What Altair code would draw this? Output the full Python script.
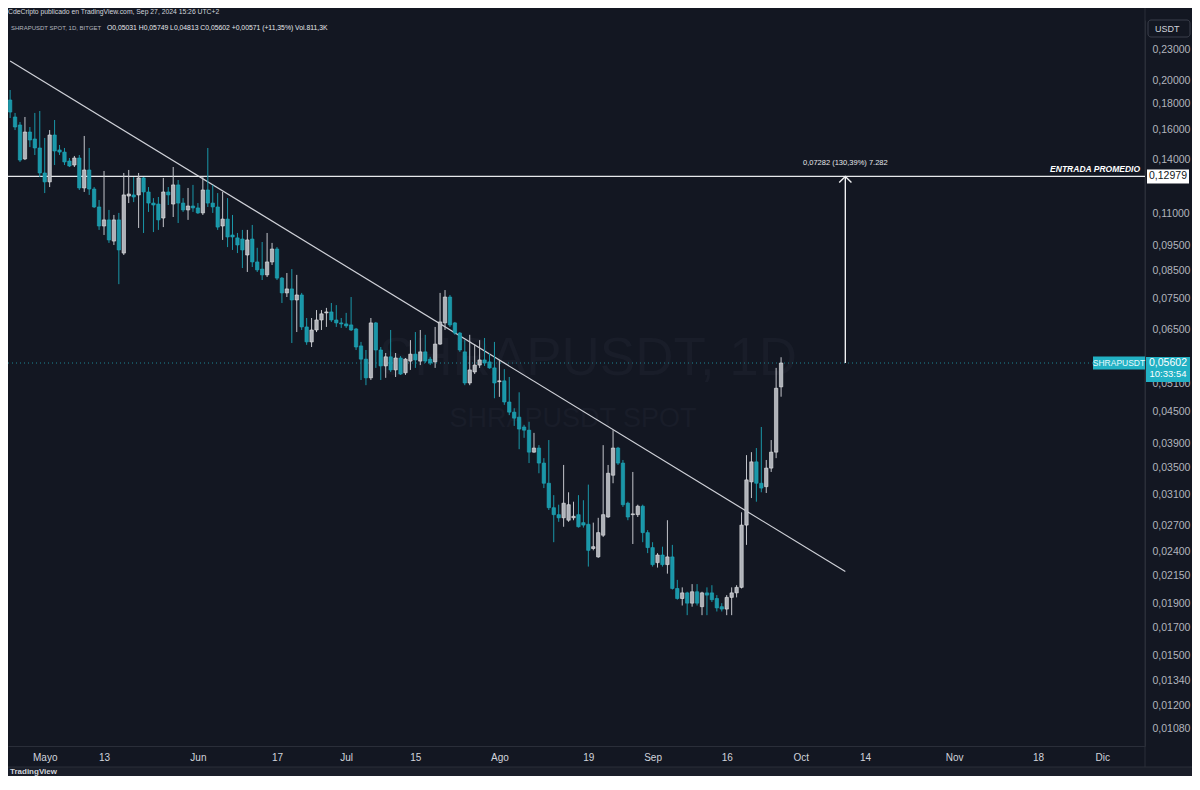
import json
import numpy as np
import pandas as pd
import altair as alt

# ---------------- data (daily candles, SHRAP/USDT, Bitget) ----------------
FIRST_DAY = "2024-04-24"

OPEN = [
    0.1831, 0.1696, 0.1636, 0.1404, 0.1585, 0.1536, 0.1475,
    0.1318, 0.1266, 0.1564, 0.1462, 0.1448, 0.1391, 0.1366, 0.1410, 0.1232, 0.1336,
    0.1226, 0.1131, 0.1038, 0.1067, 0.0970, 0.1067, 0.0919, 0.1188, 0.1194, 0.1194,
    0.1289, 0.1210, 0.1151, 0.1146, 0.1076, 0.1210, 0.1146, 0.1249, 0.1151, 0.1116, 0.1136,
    0.1126, 0.1101, 0.1221, 0.1151, 0.1131, 0.1038, 0.1071, 0.0997, 0.0984, 0.0979,
    0.0911, 0.0979, 0.0883, 0.0855, 0.0833, 0.0883, 0.0936, 0.0821, 0.0768, 0.0782,
    0.0744, 0.0761, 0.0659, 0.0616, 0.0650, 0.0680, 0.0702, 0.0705, 0.0680, 0.0671,
    0.0668, 0.0665, 0.0653, 0.0605, 0.0570, 0.0524, 0.0671, 0.0594, 0.0553, 0.0576,
    0.0543, 0.0573, 0.0536, 0.0565, 0.0583, 0.0565, 0.0589, 0.0570, 0.0563, 0.0610,
    0.0671, 0.0754, 0.0671, 0.0641, 0.0589, 0.0512, 0.0538, 0.0555, 0.0568, 0.0563, 0.0548,
    0.0515, 0.0517, 0.0470, 0.0449, 0.0439, 0.0420, 0.0414, 0.0375, 0.0382, 0.0357,
    0.0326, 0.0292, 0.0283, 0.0279, 0.0276, 0.0279, 0.0283, 0.0273, 0.0271, 0.0243,
    0.0234, 0.0258, 0.0280, 0.0338, 0.0382, 0.0357, 0.0298, 0.0283, 0.0283, 0.0294, 0.0261,
    0.0244, 0.0228, 0.0236, 0.0226, 0.0234, 0.0203, 0.0194, 0.0199, 0.0190, 0.0200,
    0.0187, 0.0199, 0.0199, 0.0194, 0.0187, 0.0185, 0.0195, 0.0199, 0.0204, 0.0270,
    0.0328, 0.0359, 0.0326, 0.0321, 0.0349, 0.0375, 0.05031,
]
HIGH = [
    0.1915, 0.1727, 0.1658, 0.1696, 0.1621, 0.1727, 0.1742,
    0.1543, 0.1599, 0.1673, 0.1495, 0.1475, 0.1410, 0.1423, 0.1429, 0.1557, 0.1475,
    0.1237, 0.1167, 0.1330, 0.1116, 0.1091, 0.1101, 0.1318, 0.1336, 0.1294, 0.1318,
    0.1294, 0.1237, 0.1177, 0.1183, 0.1289, 0.1237, 0.1354, 0.1277, 0.1177, 0.1232, 0.1249,
    0.1151, 0.1294, 0.1475, 0.1249, 0.1204, 0.1210, 0.1177, 0.1091, 0.1006, 0.1020,
    0.1020, 0.1043, 0.0941, 0.0966, 0.1006, 0.0962, 0.0944, 0.0825, 0.0840, 0.0855,
    0.0833, 0.0768, 0.0686, 0.0686, 0.0711, 0.0711, 0.0718, 0.0734, 0.0727, 0.0686,
    0.0702, 0.0754, 0.0656, 0.0616, 0.0594, 0.0686, 0.0674, 0.0602, 0.0586, 0.0650,
    0.0586, 0.0578, 0.0573, 0.0621, 0.0644, 0.0650, 0.0636, 0.0576, 0.0659, 0.0768,
    0.0778, 0.0761, 0.0674, 0.0644, 0.0621, 0.0636, 0.0610, 0.0621, 0.0627, 0.0586, 0.0616,
    0.0568, 0.0545, 0.0526, 0.0457, 0.0491, 0.0424, 0.0430, 0.0409, 0.0387, 0.0365,
    0.0396, 0.0309, 0.0296, 0.0354, 0.0313, 0.0300, 0.0309, 0.0302, 0.0324, 0.0273,
    0.0279, 0.0387, 0.0354, 0.0414, 0.0384, 0.0362, 0.0300, 0.0343, 0.0296, 0.0296, 0.0264,
    0.0250, 0.0238, 0.0245, 0.0276, 0.0247, 0.0211, 0.0204, 0.0200, 0.0207, 0.0207,
    0.0200, 0.0204, 0.0206, 0.0197, 0.0190, 0.0197, 0.0204, 0.0206, 0.0286, 0.0370,
    0.0375, 0.0382, 0.0420, 0.0362, 0.0396, 0.0548, 0.05749,
]
LOW = [
    0.1688, 0.1599, 0.1385, 0.1397, 0.1481, 0.1429, 0.1294,
    0.1204, 0.1237, 0.1366, 0.1429, 0.1366, 0.1354, 0.1354, 0.1221, 0.1210, 0.1194,
    0.1126, 0.1020, 0.0997, 0.0962, 0.0953, 0.0799, 0.0911, 0.1151, 0.1156, 0.1029,
    0.1006, 0.1106, 0.1010, 0.1020, 0.1033, 0.1141, 0.1081, 0.1052, 0.1106, 0.1067, 0.1106,
    0.1096, 0.1091, 0.1131, 0.1101, 0.1020, 0.0975, 0.0944, 0.0932, 0.0919, 0.0859,
    0.0844, 0.0863, 0.0844, 0.0814, 0.0825, 0.0871, 0.0814, 0.0734, 0.0754, 0.0613,
    0.0644, 0.0650, 0.0608, 0.0602, 0.0644, 0.0650, 0.0659, 0.0674, 0.0659, 0.0656,
    0.0656, 0.0647, 0.0594, 0.0519, 0.0507, 0.0519, 0.0548, 0.0519, 0.0524, 0.0538,
    0.0526, 0.0531, 0.0531, 0.0543, 0.0548, 0.0555, 0.0560, 0.0555, 0.0548, 0.0608,
    0.0650, 0.0659, 0.0636, 0.0589, 0.0507, 0.0507, 0.0533, 0.0548, 0.0553, 0.0546, 0.0478,
    0.0481, 0.0464, 0.0443, 0.0422, 0.0380, 0.0400, 0.0357, 0.0374, 0.0341, 0.0319,
    0.0289, 0.0250, 0.0274, 0.0268, 0.0274, 0.0276, 0.0267, 0.0267, 0.0224, 0.0241,
    0.0233, 0.0256, 0.0279, 0.0326, 0.0354, 0.0293, 0.0276, 0.0248, 0.0280, 0.0250, 0.0238,
    0.0224, 0.0223, 0.0224, 0.0217, 0.0202, 0.0193, 0.0188, 0.0180, 0.0187, 0.0188,
    0.0180, 0.0180, 0.0191, 0.0183, 0.0183, 0.0180, 0.0180, 0.0195, 0.0203, 0.0247,
    0.0305, 0.0300, 0.0313, 0.0312, 0.0343, 0.0365, 0.04813,
]
CLOSE = [
    0.1734, 0.1621, 0.1397, 0.1585, 0.1529, 0.1475, 0.1318,
    0.1266, 0.1564, 0.1455, 0.1448, 0.1385, 0.1360, 0.1410, 0.1232, 0.1336, 0.1226,
    0.1131, 0.1038, 0.1067, 0.0975, 0.1067, 0.0932, 0.1194, 0.1199, 0.1183, 0.1289,
    0.1210, 0.1151, 0.1141, 0.1067, 0.1210, 0.1194, 0.1249, 0.1151, 0.1116, 0.1136, 0.1126,
    0.1101, 0.1221, 0.1151, 0.1131, 0.1033, 0.1071, 0.0988, 0.0988, 0.0953, 0.0932,
    0.0975, 0.0883, 0.0852, 0.0833, 0.0883, 0.0936, 0.0821, 0.0768, 0.0782, 0.0744,
    0.0761, 0.0659, 0.0616, 0.0650, 0.0680, 0.0699, 0.0705, 0.0680, 0.0671, 0.0668,
    0.0662, 0.0650, 0.0602, 0.0570, 0.0524, 0.0671, 0.0594, 0.0553, 0.0576, 0.0543,
    0.0573, 0.0533, 0.0570, 0.0583, 0.0568, 0.0589, 0.0565, 0.0560, 0.0610, 0.0674,
    0.0754, 0.0665, 0.0641, 0.0594, 0.0512, 0.0543, 0.0555, 0.0568, 0.0560, 0.0548, 0.0512,
    0.0517, 0.0470, 0.0449, 0.0437, 0.0416, 0.0414, 0.0375, 0.0382, 0.0357, 0.0326,
    0.0292, 0.0283, 0.0279, 0.0298, 0.0296, 0.0281, 0.0268, 0.0270, 0.0241, 0.0245,
    0.0261, 0.0283, 0.0341, 0.0382, 0.0357, 0.0296, 0.0280, 0.0284, 0.0294, 0.0261, 0.0244,
    0.0226, 0.0236, 0.0226, 0.0234, 0.0203, 0.0194, 0.0199, 0.0190, 0.0200, 0.0190,
    0.0199, 0.0197, 0.0193, 0.0186, 0.0185, 0.0195, 0.0199, 0.0204, 0.0270, 0.0331,
    0.0359, 0.0326, 0.0319, 0.0349, 0.0375, 0.0500, 0.05602,
]

Y_TICKS = [0.0108, 0.012, 0.0134, 0.015, 0.017, 0.019, 0.0215, 0.024, 0.027,
           0.031, 0.035, 0.039, 0.045, 0.051, 0.065, 0.075, 0.085,
           0.095, 0.11, 0.14, 0.16, 0.18, 0.20, 0.23]
MONTHS_ES = ["Ene", "Feb", "Mar", "Abr", "Mayo", "Jun", "Jul", "Ago",
             "Sep", "Oct", "Nov", "Dic"]
X_TICK_DATES = ["2024-05-01", "2024-05-13", "2024-06-01", "2024-06-17",
                "2024-07-01", "2024-07-15", "2024-08-01", "2024-08-19",
                "2024-09-01", "2024-09-16", "2024-10-01", "2024-10-14",
                "2024-11-01", "2024-11-18", "2024-12-01"]

ENTRY_PRICE = 0.12979
LAST_PRICE = 0.05602
TREND_DATES = ["2024-04-24", "2024-10-10"]
TREND_PRICES = [0.2183, 0.0219]
ARROW_DATE = "2024-10-10"
ARROW_TEXT = "0,07282 (130,39%) 7.282"

HEADER = "CdeCripto publicado en TradingView.com, Sep 27, 2024 15:26 UTC+2"
LEGEND_NAME = "SHRAPUSDT SPOT, 1D, BITGET"
LEGEND_VALUES = "O0,05031  H0,05749  L0,04813  C0,05602  +0,00571 (+11,35%)  Vol.811,3K"

# ---------------- styles ----------------
BG = "#131722"
GRID_LINE = "#2a2e39"
UP_FILL, UP_LINE, UP_WICK = "#aeb1b8", "#e4e5e8", "#c3c5cb"
DOWN_FILL, DOWN_LINE = "#1a97a8", "#22a8ba"
TEAL_LABEL = "#22b1c4"
WATERMARK = "#191d29"
FONT = "Liberation Sans"

W, H = 1137, 726

dates = pd.date_range(FIRST_DAY, periods=len(OPEN), freq="D").strftime("%Y-%m-%d")
df = pd.DataFrame({"date": dates, "open": OPEN, "high": HIGH,
                   "low": LOW, "close": CLOSE})
df["dir"] = np.where(df["close"] >= df["open"], "up", "down")


def utc(s, hours=0):
    y, m, d = map(int, s.split("-"))
    return alt.DateTime(year=y, month=m, date=d, hours=hours, utc=True)


x_scale = alt.Scale(type="utc", domain=[utc("2024-04-24", 14), utc("2024-12-08", 15)])
y_scale = alt.Scale(type="log", domain=[0.009987, 0.26245], nice=False, zero=False)

x_label_expr = ("utcdate(datum.value) == 1 ? " + json.dumps(MONTHS_ES)
                + "[utcmonth(datum.value)] : '' + utcdate(datum.value)")
x_axis = alt.Axis(values=[utc(s) for s in X_TICK_DATES], labelExpr=x_label_expr,
                  title=None, grid=False, ticks=False, domainColor=GRID_LINE,
                  labelColor="#d1d4dc", labelFontSize=10, labelFont=FONT,
                  labelPadding=6, labelOverlap=False, labelFlush=False)
y_axis = alt.Axis(orient="right", values=Y_TICKS,
                  labelExpr="replace(format(datum.value, '.5f'), '.', ',')",
                  title=None, grid=False, ticks=False, domainColor=GRID_LINE,
                  labelColor="#b2b5be", labelFontSize=10.5, labelFont=FONT,
                  labelPadding=7, labelAlign="left", labelBaseline="middle",
                  labelOverlap=False, labelFlush=False)


def X(field):
    return alt.X(field, scale=x_scale, axis=x_axis)


def Y(field):
    return alt.Y(field, scale=y_scale, axis=y_axis)


def one(**cols):
    return alt.Chart(pd.DataFrame({k: [v] for k, v in cols.items()}))


def rect_path(ratio):
    return f"M-1,-{ratio}L1,-{ratio}L1,{ratio}L-1,{ratio}Z"


# ---------------- layers ----------------
footer = one(a=0).mark_rect(color="#1a1e29").encode(
    x=alt.value(0), x2=alt.value(1184), y=alt.value(747), y2=alt.value(760))
axis_bottom = one(a=0).mark_rule(color=GRID_LINE).encode(
    x=alt.value(0), x2=alt.value(1184), y=alt.value(747))
separator = one(a=0).mark_rule(color=GRID_LINE).encode(
    x=alt.value(W), y=alt.value(-12), y2=alt.value(747))

wm1 = one(t="SHRAPUSDT, 1D").mark_text(
    fontSize=53, font=FONT, color=WATERMARK, align="center", baseline="middle"
).encode(text="t:N", x=alt.value(580), y=alt.value(339))
wm2 = one(t="SHRAPUSDT SPOT").mark_text(
    fontSize=27, font=FONT, color=WATERMARK, align="center", baseline="middle"
).encode(text="t:N", x=alt.value(565), y=alt.value(399))

last_line = one(price=LAST_PRICE).mark_rule(
    color="#1f8795", strokeWidth=1, strokeDash=[1, 3]).encode(y=Y("price:Q"))
entry_line = one(price=ENTRY_PRICE).mark_rule(
    color="#e8e9ec", strokeWidth=1.3).encode(y=Y("price:Q"))

trend = alt.Chart(pd.DataFrame({"date": TREND_DATES, "price": TREND_PRICES})).mark_line(
    color="#cfd1d8", strokeWidth=1.2, clip=True).encode(x=X("date:T"), y=Y("price:Q"))

candles = alt.Chart(df)
wicks = candles.mark_rule(strokeWidth=1, clip=True).encode(
    x=X("date:T"), y=Y("low:Q"), y2="high:Q",
    color=alt.Color("dir:N", scale=alt.Scale(domain=["up", "down"],
                                             range=[UP_WICK, DOWN_FILL]), legend=None))
bodies = candles.mark_bar(width=3.4, strokeWidth=0.6, clip=True).encode(
    x=X("date:T"), y=Y("open:Q"), y2="close:Q",
    fill=alt.Fill("dir:N", scale=alt.Scale(domain=["up", "down"],
                                           range=[UP_FILL, DOWN_FILL]), legend=None),
    stroke=alt.Stroke("dir:N", scale=alt.Scale(domain=["up", "down"],
                                               range=[UP_LINE, DOWN_LINE]), legend=None))

arrow_df = pd.DataFrame({"date": [ARROW_DATE], "lo": [LAST_PRICE],
                         "hi": [ENTRY_PRICE], "label": [ARROW_TEXT]})
arrow = alt.Chart(arrow_df)
arrow_line = arrow.mark_rule(color="#f0f1f3", strokeWidth=1.4).encode(
    x=X("date:T"), y=Y("lo:Q"), y2="hi:Q")
arrow_head = arrow.mark_point(shape="M-1,1L0,0L1,1", size=150, filled=False,
                              color="#f0f1f3", strokeWidth=1.4, opacity=1).encode(
    x=X("date:T"), y=Y("hi:Q"))
arrow_text = arrow.mark_text(fontSize=7.5, font=FONT, color="#e6e7ea", dy=-13,
                             align="center", baseline="middle").encode(
    x=X("date:T"), y=Y("hi:Q"), text="label:N")

entry_name = one(price=ENTRY_PRICE, t="ENTRADA PROMEDIO").mark_text(
    fontSize=8.5, font=FONT, fontStyle="italic", fontWeight="bold", color="#ffffff",
    align="right", baseline="middle", dy=-7).encode(
    x=alt.value(1132), y=Y("price:Q"), text="t:N")
entry_box = one(price=ENTRY_PRICE).mark_point(
    shape=rect_path(0.333), size=1764, filled=True, fill="#ffffff",
    strokeWidth=0, opacity=1).encode(x=alt.value(1160), y=Y("price:Q"))
entry_val = one(price=ENTRY_PRICE, t="0,12979").mark_text(
    fontSize=10.5, font=FONT, color="#131722", align="center", baseline="middle").encode(
    x=alt.value(1160), y=Y("price:Q"), text="t:N")

sym_box = one(price=LAST_PRICE).mark_point(
    shape=rect_path(0.25), size=2704, filled=True, fill=TEAL_LABEL,
    strokeWidth=0, opacity=1).encode(x=alt.value(1111), y=Y("price:Q"))
sym_txt = one(price=LAST_PRICE, t="SHRAPUSDT").mark_text(
    fontSize=8.5, font=FONT, color="#e9fbfd", align="center", baseline="middle").encode(
    x=alt.value(1111), y=Y("price:Q"), text="t:N")
price_box = one(price=LAST_PRICE).mark_point(
    shape=rect_path(0.568), size=1936, filled=True, fill=TEAL_LABEL,
    strokeWidth=0, opacity=1, yOffset=6.5).encode(x=alt.value(1160), y=Y("price:Q"))
price_txt = one(price=LAST_PRICE, t="0,05602").mark_text(
    fontSize=10.5, font=FONT, color="#ffffff", align="center", baseline="middle").encode(
    x=alt.value(1160), y=Y("price:Q"), text="t:N")
timer_txt = one(price=LAST_PRICE, t="10:33:54").mark_text(
    fontSize=9.5, font=FONT, color="#ffffff", align="center", baseline="middle", dy=11).encode(
    x=alt.value(1160), y=Y("price:Q"), text="t:N")

usdt_box = one(a=0).mark_rect(fill=BG, stroke="#3a3e4a", strokeWidth=1, cornerRadius=3).encode(
    x=alt.value(1140), x2=alt.value(1182), y=alt.value(0), y2=alt.value(17))
usdt_txt = one(t="USDT").mark_text(fontSize=9, font=FONT, color="#d1d4dc",
                                   align="left", baseline="middle").encode(
    text="t:N", x=alt.value(1147), y=alt.value(8.5))

header = one(t=HEADER).mark_text(fontSize=6.8, font=FONT, color="#d1d4dc",
                                 align="left", baseline="middle").encode(
    text="t:N", x=alt.value(0), y=alt.value(-8))
legend_name = one(t=LEGEND_NAME).mark_text(fontSize=6, font=FONT, color="#b2b5be",
                                           align="left", baseline="middle").encode(
    text="t:N", x=alt.value(3), y=alt.value(8))
legend_vals = one(t=LEGEND_VALUES).mark_text(fontSize=6.8, font=FONT, color="#e6e7ea",
                                             align="left", baseline="middle").encode(
    text="t:N", x=alt.value(99), y=alt.value(8))
logo = one(t="TradingView").mark_text(fontSize=8, font=FONT, color="#d1d4dc",
                                      fontWeight="bold", align="left", baseline="middle").encode(
    text="t:N", x=alt.value(2), y=alt.value(752))

chart = alt.layer(
    footer, axis_bottom, separator, wm1, wm2, last_line, trend, entry_line,
    wicks, bodies, arrow_line, arrow_head, arrow_text,
    entry_name, entry_box, entry_val, sym_box, sym_txt, price_box, price_txt, timer_txt,
    usdt_box, usdt_txt, header, legend_name, legend_vals, logo,
).properties(
    width=W, height=H,
    padding={"left": 0, "top": 12, "right": 47, "bottom": 30},
    autosize=alt.AutoSizeParams(type="none"),
    background=BG,
).configure_view(stroke=None)

chart.save("out.html", embed_options={"renderer": "svg", "actions": False})
